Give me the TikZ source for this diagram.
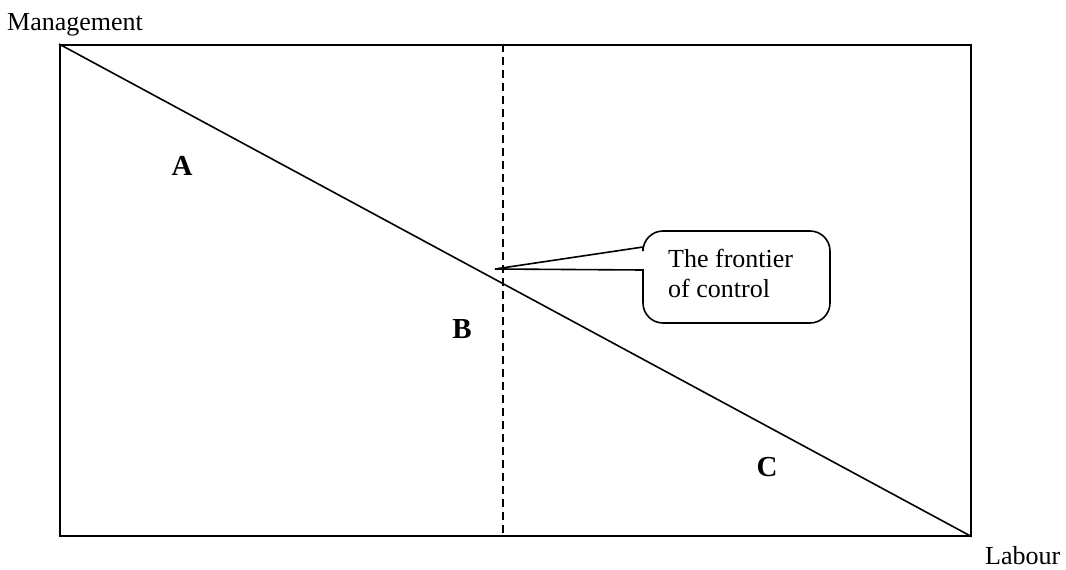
\documentclass[tikz,border=0pt]{standalone}
\usepackage{fontspec}
\setmainfont{Liberation Serif}
\begin{document}
\begin{tikzpicture}[x=1pt,y=-1pt,
  line/.style={line width=1.6pt, line join=miter},
  lab/.style={font=\fontsize{26}{30}\selectfont, inner sep=0pt, align=left},
  region/.style={font=\fontsize{29}{34}\selectfont\bfseries, inner sep=0pt},
  callout/.style={line width=1.6pt},
]
\useasboundingbox (0,0) rectangle (1066,570);
% frame
\node[draw, line, minimum width=911pt, minimum height=491pt, anchor=north west, inner sep=0pt] (box) at (59,44) {};
% axis labels
\node[lab, anchor=base west] (mgmt) at (7,30) {Management};
\node[lab, anchor=base west] (labour) at (985,564) {Labour};
% diagonal frontier
\draw[line] (box.north west) -- (box.south east);
% dashed vertical
\coordinate (dtop) at (503,44);
\coordinate (dbot) at (503,535);
\draw[line width=1.5pt, dash pattern=on 8pt off 5pt] (dtop) -- (dbot);
% region labels
\node[region] (A) at (182,166) {A};
\node[region] (B) at (462,329) {B};
\node[region] (C) at (767,467) {C};
% callout
\coordinate (tip) at (495,269);
\draw[callout] (tip) -- (643,247) [rounded corners=20pt] -- (643,231) -- (830,231) -- (830,323) -- (643,323) [sharp corners] -- (643,270) -- cycle;
\node[lab, anchor=base west] (ctext) at (668,297) {The frontier\\of control};
\end{tikzpicture}
\end{document}
